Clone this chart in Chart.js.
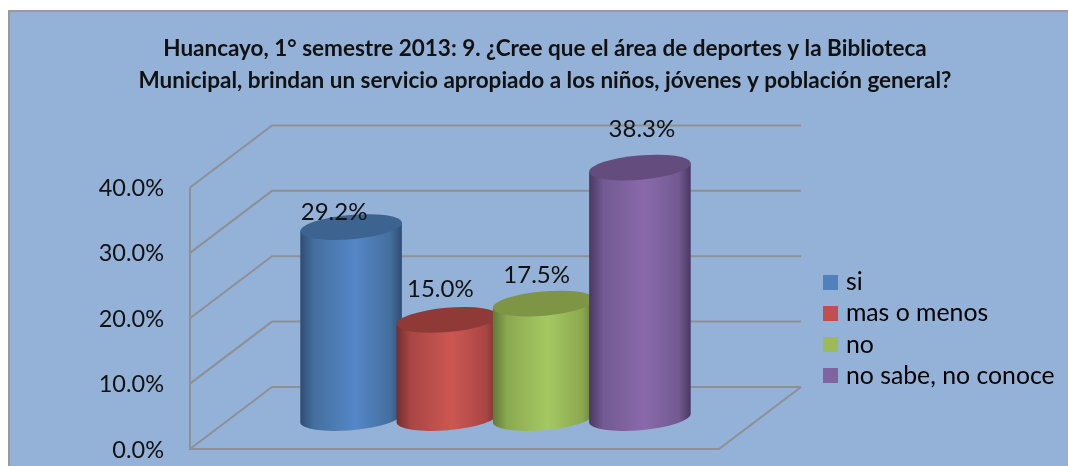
<!DOCTYPE html>
<html lang="es">
<head>
<meta charset="utf-8">
<style>html,body{margin:0;padding:0;background:#fff;overflow:hidden}#w{width:1068px;height:466px}</style>
<script src="https://cdn.jsdelivr.net/npm/chart.js@4/dist/chart.umd.min.js"></script>
</head>
<body>
<div id="w"><canvas id="c" width="1068" height="466"></canvas></div>
<script>
const titleLines = [
  'Huancayo, 1° semestre 2013: 9. ¿Cree que el área de deportes y la Biblioteca',
  'Municipal, brindan un servicio apropiado a los niños, jóvenes y población general?'
];
const categories = [''];
const seriesNames = ['si', 'mas o menos', 'no', 'no sabe, no conoce'];
const seriesValues = [29.2, 15.0, 17.5, 38.3];
const seriesColors = ['#4f81bd', '#c0504d', '#9bbb59', '#8064a2'];
const shadeEdge = ['#2f4c73', '#722e2c', '#607838', '#4a3762'];
const shadeNear = ['#44709f', '#a84644', '#8aa94f', '#725a92'];
const shadeMid = ['#5587c8', '#cd5752', '#a6c862', '#8a69ab'];
const capColors = ['#3d6391', '#8f3a37', '#7d9544', '#644c7e'];
const labelShift = [[-17, -15], [-7, -31], [-7, -28], [2, -38]];

const FONT = 'Lato, Carlito, "Open Sans", sans-serif';
const DEPTH_X = 82, DEPTH_Y = 62, TILT = -5 * Math.PI / 180, CAP_RY = 12.2;

const swatch = c => {
  const s = document.createElement('canvas');
  s.width = s.height = 15;
  const g = s.getContext('2d');
  g.fillStyle = c; g.fillRect(0, 0, 15, 15);
  return s;
};

function drawCylinder(chart, i) {
  const b = chart.getDatasetMeta(i).data[0], c = chart.ctx;
  const dx = DEPTH_X / 2, dy = -DEPTH_Y / 2;
  const cx = b.x + dx, top = b.y + dy, base = b.base + dy, rx = b.width / 2;
  const ox = rx * Math.cos(TILT), oy = rx * Math.sin(TILT);
  const g = c.createLinearGradient(cx - rx, 0, cx + rx, 0);
  g.addColorStop(0, shadeEdge[i]);
  g.addColorStop(0.14, shadeNear[i]);
  g.addColorStop(0.54, shadeMid[i]);
  g.addColorStop(0.88, shadeNear[i]);
  g.addColorStop(1, shadeEdge[i]);
  c.save();
  c.fillStyle = g;
  c.beginPath();
  c.moveTo(cx - ox, top - oy);
  c.lineTo(cx - ox, base - oy);
  c.ellipse(cx, base, rx, CAP_RY, TILT, Math.PI, 0, true);
  c.lineTo(cx + ox, top + oy);
  c.closePath();
  c.fill();
  c.fillStyle = capColors[i];
  c.beginPath();
  c.ellipse(cx, top, rx, CAP_RY, TILT, 0, Math.PI * 2);
  c.fill();
  c.restore();
}

const frame = {
  id: 'frame',
  beforeLayout(chart) {
    const l = chart.legend;
    if (l && !l._wrapped) {
      const f = l.fit;
      l.fit = function () { f.call(this); this.width = 349; };
      l._wrapped = true;
    }
  },
  afterLayout(chart) {
    const l = chart.legend;
    l.left = 821; l.right = 1068; l.top += 88; l.bottom += 88;
  },
  beforeDraw(chart) {
    const c = chart.ctx;
    c.save();
    c.fillStyle = '#fff'; c.fillRect(0, 0, 1068, 466);
    c.fillStyle = '#94b2d7'; c.fillRect(8, 11, 1060, 455);
    c.strokeStyle = '#9a9a9a'; c.lineWidth = 2;
    c.beginPath(); c.moveTo(9, 466); c.lineTo(9, 11); c.lineTo(1068, 11); c.stroke();
    c.restore();
  },
  beforeDatasetsDraw(chart) {
    const { ctx: c, chartArea: a, scales: { y } } = chart;
    c.save();
    c.strokeStyle = '#8d9196'; c.lineWidth = 2;
    c.beginPath();
    y.ticks.forEach(t => {
      const p = y.getPixelForValue(t.value);
      c.moveTo(a.left, p);
      c.lineTo(a.left + DEPTH_X, p - DEPTH_Y);
      c.lineTo(a.right + DEPTH_X, p - DEPTH_Y);
    });
    c.moveTo(a.left, a.top); c.lineTo(a.left, a.bottom); c.lineTo(a.right, a.bottom);
    c.lineTo(a.right + DEPTH_X, a.bottom - DEPTH_Y);
    c.stroke();
    c.restore();
    seriesValues.forEach((v, i) => drawCylinder(chart, i));
  },
  beforeDatasetDraw() { return false; },
  afterDatasetsDraw(chart) {
    const c = chart.ctx;
    c.save();
    c.font = '24px ' + FONT;
    c.fillStyle = '#111';
    c.textAlign = 'center';
    c.textBaseline = 'middle';
    seriesValues.forEach((v, i) => {
      const b = chart.getDatasetMeta(i).data[0];
      c.fillText(v.toFixed(1) + '%', b.x + DEPTH_X / 2 + labelShift[i][0], b.y - DEPTH_Y / 2 + labelShift[i][1]);
    });
    c.restore();
  }
};

new Chart(document.getElementById('c'), {
  type: 'bar',
  data: {
    labels: categories,
    datasets: seriesNames.map((n, i) => ({
      label: n,
      data: [seriesValues[i]],
      backgroundColor: seriesColors[i],
      categoryPercentage: 0.728,
      barPercentage: 1.059
    }))
  },
  options: {
    responsive: false,
    animation: false,
    layout: { padding: { left: 22, right: 0, top: 33, bottom: 17 } },
    plugins: {
      tooltip: { enabled: false },
      title: {
        display: true,
        text: titleLines,
        color: '#111',
        font: { family: FONT, size: 22.5, weight: 'bold', lineHeight: 1.41 },
        padding: { top: 0, bottom: 91 }
      },
      legend: {
        position: 'right',
        labels: {
          color: '#111',
          font: { family: FONT, size: 24.8, lineHeight: 1.07 },
          padding: 6.5,
          boxWidth: 6,
          usePointStyle: true,
          generateLabels: () => seriesNames.map((n, i) => ({
            text: n, datasetIndex: i, fillStyle: seriesColors[i], lineWidth: 0,
            strokeStyle: 'transparent', pointStyle: swatch(seriesColors[i])
          }))
        }
      }
    },
    scales: {
      x: { display: false },
      y: {
        min: 0, max: 40,
        ticks: {
          stepSize: 10,
          padding: 18,
          labelOffset: 1,
          color: '#111',
          font: { family: FONT, size: 23.5 },
          callback: v => v.toFixed(1) + '%'
        },
        grid: { display: false },
        border: { display: false },
        afterFit(s) { s.width = 168; s.paddingTop = 0; s.paddingBottom = 0; }
      }
    }
  },
  plugins: [frame]
});
</script>
</body>
</html>
